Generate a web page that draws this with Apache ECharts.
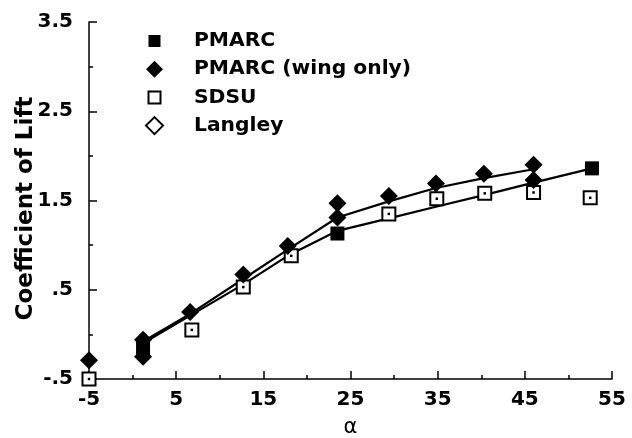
<!DOCTYPE html>
<html><head><meta charset="utf-8">
<script src="https://cdn.jsdelivr.net/npm/echarts@6/dist/echarts.min.js"></script>
<style>html,body{margin:0;padding:0;background:#fff}#c{width:632px;height:438px}</style>
</head><body><div id="c"></div>
<script>
// Tick labels
const xTicks = [-5, 5, 15, 25, 35, 45, 55];
const yTicks = ['-.5', '.5', '1.5', '2.5', '3.5'];
// PMARC (full) markers
const pmarcAlpha = [1.2, 23.5, 52.7];
const pmarcCL = [-0.16, 1.13, 1.86];
// PMARC full curve
const pmarcLineAlpha = [1.2, 6.6, 12.7, 17.8, 23.5, 29.4, 34.8, 40.3, 46.0, 52.7];
const pmarcLineCL = [-0.10, 0.21, 0.56, 0.88, 1.16, 1.30, 1.43, 1.56, 1.70, 1.86];
// PMARC (wing only) markers
const wingAlpha = [-5, 1.2, 1.2, 6.6, 12.7, 17.8, 23.5, 23.5, 29.4, 34.8, 40.3, 46.0, 46.0];
const wingCL = [-0.29, -0.06, -0.25, 0.25, 0.67, 0.99, 1.47, 1.31, 1.55, 1.69, 1.80, 1.90, 1.73];
// PMARC (wing only) curve
const wingLineAlpha = [1.2, 6.6, 12.7, 17.8, 23.5, 29.4, 34.8, 40.3, 46.0];
const wingLineCL = [-0.08, 0.23, 0.62, 0.95, 1.31, 1.49, 1.64, 1.75, 1.85];
// SDSU
const sdsuAlpha = [-5, 6.8, 12.7, 18.2, 29.4, 34.9, 40.4, 46.0, 52.5];
const sdsuCL = [-0.5, 0.05, 0.53, 0.88, 1.35, 1.52, 1.58, 1.59, 1.53];
// Langley (no points visible)
const langleyAlpha = [];
const langleyCL = [];

const zip = (a, b) => a.map((v, i) => [v, b[i]]);
const FONT = 'DejaVu Sans';
const SQ_ICON = 'path://M0,0L0,0M17,17L17,17M2.5,2.5H14.5V14.5H2.5Z';
const chart = echarts.init(document.getElementById('c'), null, {renderer: 'canvas'});
chart.setOption({
  animation: false,
  backgroundColor: '#fff',
  grid: {left: 89, right: 20, top: 22, bottom: 59, containLabel: false, outerBoundsMode: 'none'},
  legend: {
    orient: 'vertical', left: 140, top: 26, itemGap: 8.2,
    itemWidth: 17, itemHeight: 17,
    textStyle: {fontFamily: FONT, fontWeight: 'bold', fontSize: 20.3, color: '#000', padding: [0, 0, 0, 26]},
    data: [
      {name: 'PMARC', icon: SQ_ICON},
      {name: 'PMARC (wing only)', icon: 'diamond'},
      {name: 'SDSU', icon: SQ_ICON},
      {name: 'Langley', icon: 'diamond'}
    ]
  },
  xAxis: {
    type: 'value', min: -5, max: 55, interval: 10,
    name: 'α', nameLocation: 'middle', nameGap: 38,
    nameTextStyle: {fontFamily: FONT, fontSize: 21, color: '#000'},
    axisLine: {onZero: false, lineStyle: {color: '#000', width: 1.5}},
    axisTick: {inside: true, length: 8, lineStyle: {color: '#000', width: 1.5}},
    minorTick: {show: true, splitNumber: 2, length: 4, lineStyle: {color: '#000', width: 1.5}},
    splitLine: {show: false},
    axisLabel: {fontFamily: FONT, fontWeight: 'bold', fontSize: 20, color: '#000', margin: 11,
      formatter: v => { const i = xTicks.indexOf(Math.round(v)); return i >= 0 ? String(xTicks[i]) : ''; }}
  },
  yAxis: {
    type: 'value', min: -0.5, max: 3.5, interval: 1,
    name: 'Coefficient of Lift', nameLocation: 'middle', nameGap: 51, nameRotate: 90, nameMoveOverlap: false,
    nameTextStyle: {fontFamily: FONT, fontWeight: 'bold', fontSize: 23, color: '#000', padding: [0, 16, 0, 0]},
    axisLine: {onZero: false, lineStyle: {color: '#000', width: 1.5}},
    axisTick: {inside: true, length: 8, lineStyle: {color: '#000', width: 1.5}},
    minorTick: {show: true, splitNumber: 2, length: 4, lineStyle: {color: '#000', width: 1.5}},
    splitLine: {show: false},
    axisLabel: {fontFamily: FONT, fontWeight: 'bold', fontSize: 20, color: '#000', margin: 16,
      formatter: v => { const s = v.toFixed(1).replace(/^(-?)0\./, '$1.'); return yTicks.indexOf(s) >= 0 ? s : ''; }}
  },
  series: [
    {name: 'pmarcLine', type: 'line', data: zip(pmarcLineAlpha, pmarcLineCL), symbol: 'none',
      lineStyle: {color: '#000', width: 2.2}, z: 2, silent: true},
    {name: 'wingLine', type: 'line', data: zip(wingLineAlpha, wingLineCL), symbol: 'none',
      lineStyle: {color: '#000', width: 2.2}, z: 2, silent: true},
    {name: 'SDSU', type: 'scatter', data: zip(sdsuAlpha, sdsuCL), symbol: 'rect', symbolSize: 13,
      itemStyle: {color: '#fff', borderColor: '#000', borderWidth: 2, opacity: 1}, z: 3},
    {name: 'sdsuDot', type: 'scatter', data: zip(sdsuAlpha, sdsuCL), symbol: 'rect', symbolSize: 2.5,
      itemStyle: {color: '#000', opacity: 1}, z: 4},
    {name: 'PMARC', type: 'scatter', data: zip(pmarcAlpha, pmarcCL), symbol: 'rect', symbolSize: 14,
      itemStyle: {color: '#000', opacity: 1}, z: 5},
    {name: 'PMARC (wing only)', type: 'scatter', data: zip(wingAlpha, wingCL), symbol: 'diamond', symbolSize: 18,
      itemStyle: {color: '#000', opacity: 1}, z: 6},
    {name: 'Langley', type: 'scatter', data: zip(langleyAlpha, langleyCL), symbol: 'diamond', symbolSize: 18,
      itemStyle: {color: '#fff', borderColor: '#000', borderWidth: 2, opacity: 1}, z: 7}
  ]
});
</script></body></html>
